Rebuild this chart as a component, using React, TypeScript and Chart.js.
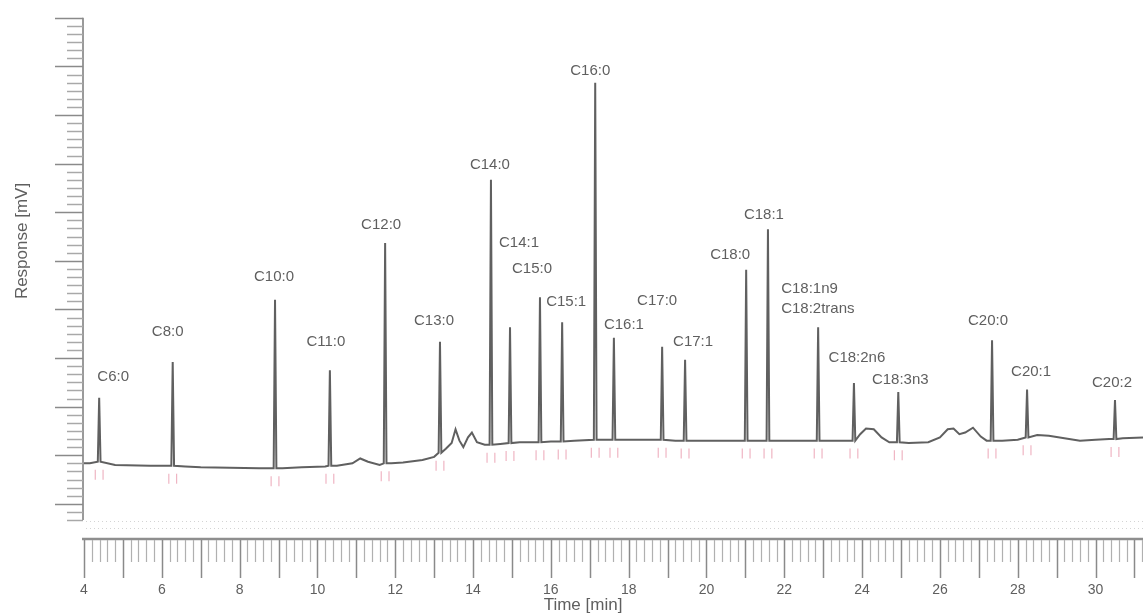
import React, { useEffect, useRef } from 'react';
import { Chart, registerables } from 'chart.js';

Chart.register(...registerables);

// ---- Data ----
const peakNames = [
  'C6:0', 'C8:0', 'C10:0', 'C11:0', 'C12:0', 'C13:0', 'C14:0', 'C14:1', 'C15:0', 'C15:1',
  'C16:0', 'C16:1', 'C17:0', 'C17:1', 'C18:0', 'C18:1', 'C18:1n9\nC18:2trans', 'C18:2n6',
  'C18:3n3', 'C20:0', 'C20:1', 'C20:2',
];
const peakTimes = [
  4.39, 6.28, 8.91, 10.32, 11.74, 13.15, 14.46, 14.95, 15.72, 16.29,
  17.14, 17.62, 18.86, 19.45, 21.02, 21.58, 22.87, 23.79, 24.93, 27.34, 28.24, 30.5,
];
const peakApex = [
  7.1, 11.5, 19.2, 10.5, 26.2, 14.0, 34.0, 15.8, 19.5, 16.4,
  46.0, 14.5, 13.4, 11.8, 22.9, 27.9, 15.8, 8.9, 7.8, 14.2, 8.1, 6.8,
];
const peakFoot = [
  -0.8, -1.3, -1.6, -1.3, -1.0, 0.3, 1.3, 1.5, 1.6, 1.7,
  1.9, 1.9, 1.9, 1.8, 1.8, 1.8, 1.8, 1.8, 1.6, 1.8, 2.2, 2.0,
];
const baseTimes = [
  4.0, 4.15, 4.8, 5.7, 6.0, 6.6, 7.0, 8.5, 8.8, 9.1, 9.6, 10.2, 10.5, 10.9, 11.1, 11.3, 11.6,
  11.9, 12.2, 12.7, 13.0, 13.3, 13.45, 13.55, 13.65, 13.75, 13.87, 13.97, 14.1, 14.3, 14.7,
  15.2, 15.5, 16.0, 16.6, 17.4, 18.0, 18.5, 19.2, 19.8, 20.4, 20.9, 21.3, 21.9, 22.4, 22.7,
  23.1, 23.6, 23.95, 24.1, 24.3, 24.5, 24.7, 25.2, 25.7, 26.0, 26.2, 26.35, 26.5, 26.65,
  26.85, 27.05, 27.2, 27.6, 28.0, 28.5, 28.8, 29.2, 29.6, 30.0, 30.35, 30.7, 31.22,
];
const baseValues = [
  -1.0, -1.0, -1.2, -1.3, -1.3, -1.4, -1.5, -1.6, -1.6, -1.6, -1.5, -1.4, -1.3, -1.0, -0.4, -0.8, -1.2,
  -1.0, -0.9, -0.6, -0.2, 0.8, 1.5, 3.2, 1.8, 1.0, 2.2, 2.8, 1.6, 1.3, 1.4,
  1.6, 1.6, 1.7, 1.8, 1.9, 1.9, 1.9, 1.8, 1.8, 1.8, 1.8, 1.8, 1.8, 1.8, 1.8,
  1.8, 1.8, 2.6, 3.3, 3.2, 2.2, 1.6, 1.5, 1.6, 2.2, 3.2, 3.3, 2.6, 2.8,
  3.4, 2.3, 1.8, 1.8, 1.9, 2.5, 2.4, 2.1, 1.8, 1.9, 2.0, 2.1, 2.2,
];
const xTickLabels = [4, 6, 8, 10, 12, 14, 16, 18, 20, 22, 24, 26, 28, 30];
const xTitle = 'Time [min]';
const yTitle = 'Response [mV]';

// ---- Layout of the peak labels (pixel offsets from apex) ----
const labelOffsets: [number, number][] = [
  [14, -21], [-5, -30], [-1, -23], [-4, -28], [-4, -18], [-6, -21], [-1, -15], [9, -84],
  [-8, -28], [4, -21], [-5, -12], [10, -13], [-5, -46], [8, -18], [-16, -15], [-4, -14],
  [-37, -38], [3, -25], [2, -12], [-4, -19], [4, -18], [-3, -17],
];

const FONT = "'Liberation Sans', Arial, sans-serif";
const TEXT = '#5f5f5f';
const AXIS = '#9a9a9a';

const decorPlugin = {
  id: 'decor',
  afterDraw(chart: any) {
    const { ctx, chartArea, scales } = chart;
    const xs = scales.x;
    const ys = scales.y;
    ctx.save();
    // faint dotted lines above the time ruler
    ctx.strokeStyle = 'rgba(160,160,160,0.45)';
    ctx.lineWidth = 1;
    ctx.setLineDash([1, 3]);
    [17, 10].forEach((d) => {
      ctx.beginPath();
      ctx.moveTo(chartArea.left + 2, chartArea.bottom - d + 0.5);
      ctx.lineTo(chartArea.right, chartArea.bottom - d + 0.5);
      ctx.stroke();
    });
    ctx.setLineDash([]);

    // y axis ruler
    const yTop = ys.getPixelForValue(54);
    const yBot = ys.getPixelForValue(-8);
    ctx.strokeStyle = AXIS;
    ctx.lineWidth = 2;
    ctx.beginPath();
    ctx.moveTo(chartArea.left - 1, yTop);
    ctx.lineTo(chartArea.left - 1, yBot);
    ctx.stroke();
    ctx.lineWidth = 1.5;
    for (let v = -8; v <= 54; v += 1) {
      const p = Math.round(ys.getPixelForValue(v)) + 0.5;
      const len = v % 6 === 0 ? 28 : 16;
      ctx.strokeStyle = v % 6 === 0 ? '#8a8a8a' : '#a8a8a8';
      ctx.beginPath();
      ctx.moveTo(chartArea.left - 1 - len, p);
      ctx.lineTo(chartArea.left - 1, p);
      ctx.stroke();
    }

    // x axis ruler
    ctx.strokeStyle = '#8e8e8e';
    ctx.lineWidth = 2.5;
    ctx.beginPath();
    ctx.moveTo(chartArea.left - 2, chartArea.bottom + 1);
    ctx.lineTo(chartArea.right, chartArea.bottom + 1);
    ctx.stroke();
    for (let k = 0; ; k++) {
      const t = xs.min + k * 0.2;
      if (t > xs.max + 1e-6) break;
      const isMin = Math.abs(t - Math.round(t)) < 1e-6;
      const p = Math.round(xs.getPixelForValue(t)) + 0.5;
      const len = isMin ? 38 : 22;
      ctx.strokeStyle = isMin ? '#8a8a8a' : '#b0b0b0';
      ctx.lineWidth = isMin ? 1.5 : 1.2;
      ctx.beginPath();
      ctx.moveTo(p, chartArea.bottom + 2);
      ctx.lineTo(p, chartArea.bottom + 2 + len);
      ctx.stroke();
    }

    // axis titles
    ctx.fillStyle = TEXT;
    ctx.font = `17px ${FONT}`;
    ctx.textAlign = 'center';
    ctx.textBaseline = 'middle';
    ctx.fillText(xTitle, 583, 605);
    ctx.save();
    ctx.translate(22, 241);
    ctx.rotate(-Math.PI / 2);
    ctx.fillText(yTitle, 0, 0);
    ctx.restore();

    // peak labels
    ctx.font = `15px ${FONT}`;
    peakNames.forEach((name, i) => {
      const px = xs.getPixelForValue(peakTimes[i]);
      const py = ys.getPixelForValue(peakApex[i]);
      const [dx, dy] = labelOffsets[i];
      const lines = name.split('\n');
      if (lines.length > 1) {
        ctx.textAlign = 'left';
        lines.forEach((ln, j) => ctx.fillText(ln, px + dx, py + dy + j * 20));
      } else {
        ctx.textAlign = 'center';
        ctx.fillText(name, px + dx, py + dy);
      }
    });
    ctx.restore();
  },
};

export default function App() {
  const ref = useRef<HTMLCanvasElement | null>(null);

  useEffect(() => {
    if (!ref.current) return;
    const trace: { x: number; y: number }[] = [];
    baseTimes.forEach((t, i) => trace.push({ x: t, y: baseValues[i] }));
    peakTimes.forEach((t, i) => {
      trace.push({ x: t - 0.035, y: peakFoot[i] });
      trace.push({ x: t, y: peakApex[i] });
      trace.push({ x: t + 0.035, y: peakFoot[i] });
    });
    trace.sort((a, b) => a.x - b.x);

    const markers: { x: number; y: number }[] = [];
    peakTimes.forEach((t, i) => {
      markers.push({ x: t - 0.1, y: peakFoot[i] - 1.6 });
      markers.push({ x: t + 0.1, y: peakFoot[i] - 1.6 });
    });

    const chart = new Chart(ref.current, {
      type: 'line',
      data: {
        datasets: [
          {
            data: trace,
            borderColor: '#606060',
            borderWidth: 2,
            pointRadius: 0,
            tension: 0,
            fill: false,
          } as any,
          {
            type: 'scatter',
            data: markers,
            pointStyle: 'line',
            rotation: 90,
            radius: 5,
            borderColor: 'rgba(225,120,145,0.55)',
            borderWidth: 1.2,
          } as any,
        ],
      },
      options: {
        animation: false,
        responsive: true,
        maintainAspectRatio: false,
        devicePixelRatio: 1,
        layout: { autoPadding: false, padding: { top: 12, left: 0, right: 0, bottom: 0 } },
        plugins: { legend: { display: false }, tooltip: { enabled: false } },
        scales: {
          x: {
            type: 'linear',
            min: 4,
            max: 31.22,
            grid: { display: false, drawTicks: false },
            border: { display: false },
            afterBuildTicks: (s: any) => {
              s.ticks = xTickLabels.map((v) => ({ value: v }));
            },
            ticks: {
              autoSkip: false,
              maxRotation: 0,
              minRotation: 0,
              padding: 44,
              color: TEXT,
              font: { family: FONT, size: 14 },
              callback: (v: any) => String(v),
            },
            title: { display: false },
            afterFit: (s: any) => {
              s.height = 75;
              s.paddingLeft = 0;
              s.paddingRight = 0;
            },
          },
          y: {
            type: 'linear',
            min: -10.22,
            max: 54.72,
            grid: { display: false, drawTicks: false },
            border: { display: false },
            ticks: { display: false },
            afterFit: (s: any) => {
              s.width = 84;
            },
          },
        },
      } as any,
      plugins: [decorPlugin],
    });
    return () => chart.destroy();
  }, []);

  return (
    <div style={{ position: 'fixed', left: 0, top: 0, width: 1143, height: 613, background: '#fff' }}>
      <canvas ref={ref} />
    </div>
  );
}
